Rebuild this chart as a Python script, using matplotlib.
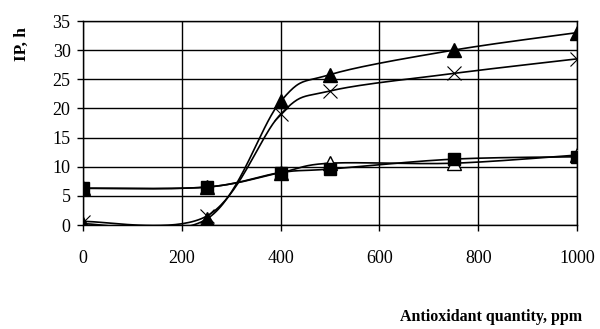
import matplotlib
matplotlib.use("Agg")
import matplotlib.pyplot as plt
import numpy as np

# data
quantity = [0, 250, 400, 500, 750, 1000]
ip_filled_tri = [0.2, 1.0, 21.2, 25.8, 30.0, 33.0]
ip_cross = [0.6, 1.5, 19.0, 23.0, 26.0, 28.5]
ip_square = [6.3, 6.5, 9.0, 9.6, 11.3, 11.7]
ip_open_tri = [6.3, 6.5, 9.0, 10.6, 10.6, 12.0]

xticks = [0, 200, 400, 600, 800, 1000]
yticks = [0, 5, 10, 15, 20, 25, 30, 35]


def smooth(x, y, n=40):
    """Excel-like smoothed line: cubic bezier with control points from neighbours."""
    x = np.asarray(x, float)
    y = np.asarray(y, float)
    pts = np.column_stack([x, y])
    out = []
    for i in range(len(pts) - 1):
        p0 = pts[i - 1] if i > 0 else pts[i]
        p1 = pts[i]
        p2 = pts[i + 1]
        p3 = pts[i + 2] if i + 2 < len(pts) else pts[i + 1]
        c1 = p1 + (p2 - p0) / 6.0
        c2 = p2 - (p3 - p1) / 6.0
        t = np.linspace(0, 1, n)[:, None]
        seg = ((1 - t) ** 3) * p1 + 3 * ((1 - t) ** 2) * t * c1 + 3 * (1 - t) * t ** 2 * c2 + t ** 3 * p2
        out.append(seg)
    s = np.vstack(out)
    return s[:, 0], s[:, 1]


plt.rcParams['font.family'] = ['Liberation Serif', 'DejaVu Serif']

fig = plt.figure(figsize=(6, 3.29), dpi=100)
ax = fig.add_axes([83 / 600, 1 - 225 / 329, 494 / 600, 204 / 329])

series = [
    (ip_open_tri, dict(marker='^', markerfacecolor='white', markeredgecolor='black', markersize=10)),
    (ip_square, dict(marker='s', markerfacecolor='black', markeredgecolor='black', markersize=8.5)),
    (ip_cross, dict(marker='x', markeredgecolor='black', markersize=10, markeredgewidth=0.8)),
    (ip_filled_tri, dict(marker='^', markerfacecolor='black', markeredgecolor='black', markersize=10)),
]
for vals, style in series:
    sx, sy = smooth(quantity, vals)
    ax.plot(sx, sy, color='black', lw=1.2, zorder=3)
    ax.plot(quantity, vals, linestyle='none', zorder=4, **style)

ax.set_xlim(0, 1000)
ax.set_ylim(0, 35)
ax.set_xticks(xticks)
ax.set_yticks(yticks)
ax.grid(True, color='black', lw=1.0)
ax.set_axisbelow(True)
for sp in ax.spines.values():
    sp.set_color('black')
    sp.set_linewidth(1.0)
ax.tick_params(axis='x', direction='out', length=4, width=1, pad=14, labelsize=13)
ax.tick_params(axis='y', direction='out', length=4, width=1, pad=5, labelsize=13)

fig.text(22 / 600, 1 - 44 / 329, 'IP, h', rotation=90, fontsize=12.5, fontweight='bold',
         ha='center', va='center')
fig.text(491 / 600, 1 - 317 / 329, 'Antioxidant quantity, ppm', fontsize=11.5,
         fontweight='bold', ha='center', va='center')

fig.savefig('out.png', dpi=100)
